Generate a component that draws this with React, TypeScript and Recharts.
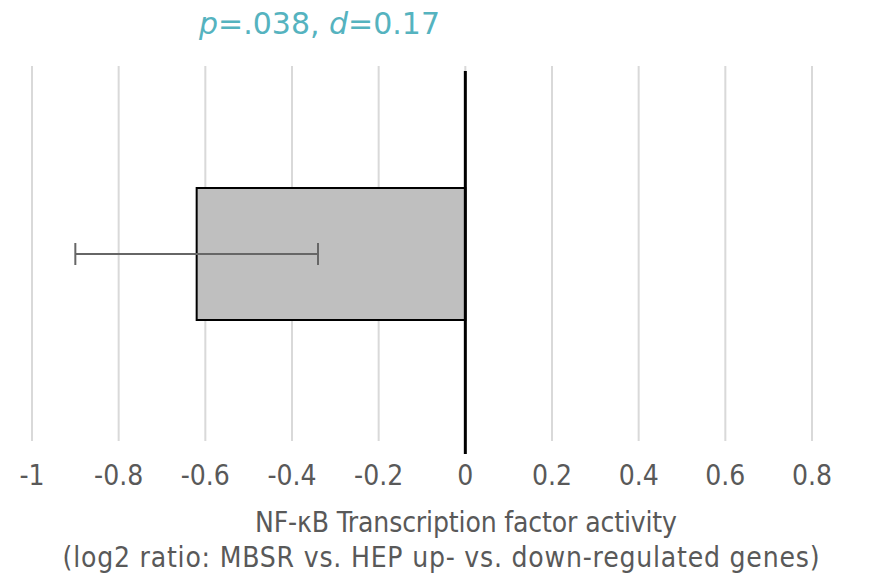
import React from "react";
import { BarChart, Bar, XAxis, YAxis, CartesianGrid, ReferenceLine, ErrorBar } from "recharts";

const categories = ["NF-κB"];
const values = [-0.62];
const errors = [0.28];
const xTicks = [-1, -0.8, -0.6, -0.4, -0.2, 0, 0.2, 0.4, 0.6, 0.8];
const axisTitle1 = "NF-κB Transcription factor activity";
const axisTitle2 = "(log2 ratio: MBSR vs. HEP up- vs. down-regulated genes)";

const data = categories.map((c, i) => ({ name: c, value: values[i], err: errors[i] }));

const W = 894;
const H = 575;
const TEAL = "#55B3BF";
const NARROW = "'Liberation Sans Narrow', 'DejaVu Sans Condensed', 'Liberation Sans', sans-serif";

const ZeroLine = (props: any) => {
  const { x1, y1, x2, y2 } = props;
  return <line x1={x1} x2={x2} y1={y1 + 13} y2={y2 + 5} stroke="#000" strokeWidth={3} />;
};

const AxisTitle = (props: any) => {
  const vb = props.viewBox || {};
  const top = vb.y || 0;
  return (
    <g>
      <text x={466} y={top + 91} textAnchor="middle" fill="#595959" fontSize={28} fontFamily={NARROW} textLength={422} lengthAdjust="spacing">
        {axisTitle1}
      </text>
      <text x={441} y={top + 126} textAnchor="middle" fill="#595959" fontSize={28} fontFamily={NARROW} textLength={757} lengthAdjust="spacing">
        {axisTitle2}
      </text>
    </g>
  );
};

export default function App() {
  return (
    <div style={{ position: "absolute", left: 0, top: 0, width: W, height: H, background: "#fff" }}>
      <div
        style={{
          position: "absolute",
          left: 199,
          top: 4,
          fontFamily: "'DejaVu Sans', sans-serif",
          fontSize: 30,
          color: TEAL,
          whiteSpace: "nowrap",
          lineHeight: "40px",
        }}
      >
        <i>p</i>=.038, <i>d</i>=0.17
      </div>
      <BarChart
        width={W}
        height={H}
        data={data}
        layout="vertical"
        margin={{ top: 66, right: 82, left: 32, bottom: 0 }}
      >
        <CartesianGrid horizontal={false} vertical={true} stroke="#D9D9D9" strokeWidth={2} />
        <XAxis
          type="number"
          domain={[-1, 0.8]}
          ticks={xTicks}
          interval={0}
          axisLine={false}
          tickLine={false}
          tickMargin={18}
          height={134}
          tick={{ fill: "#595959", fontSize: 28, fontFamily: NARROW }}
          label={<AxisTitle />}
        />
        <YAxis type="category" dataKey="name" hide width={0} />
        <Bar dataKey="value" fill="#BFBFBF" stroke="#000" strokeWidth={2} barSize={132} isAnimationActive={false}>
          <ErrorBar dataKey="err" direction="x" width={11} stroke="#666666" strokeWidth={2} />
        </Bar>
        <ReferenceLine x={0} shape={<ZeroLine />} />
      </BarChart>
    </div>
  );
}
